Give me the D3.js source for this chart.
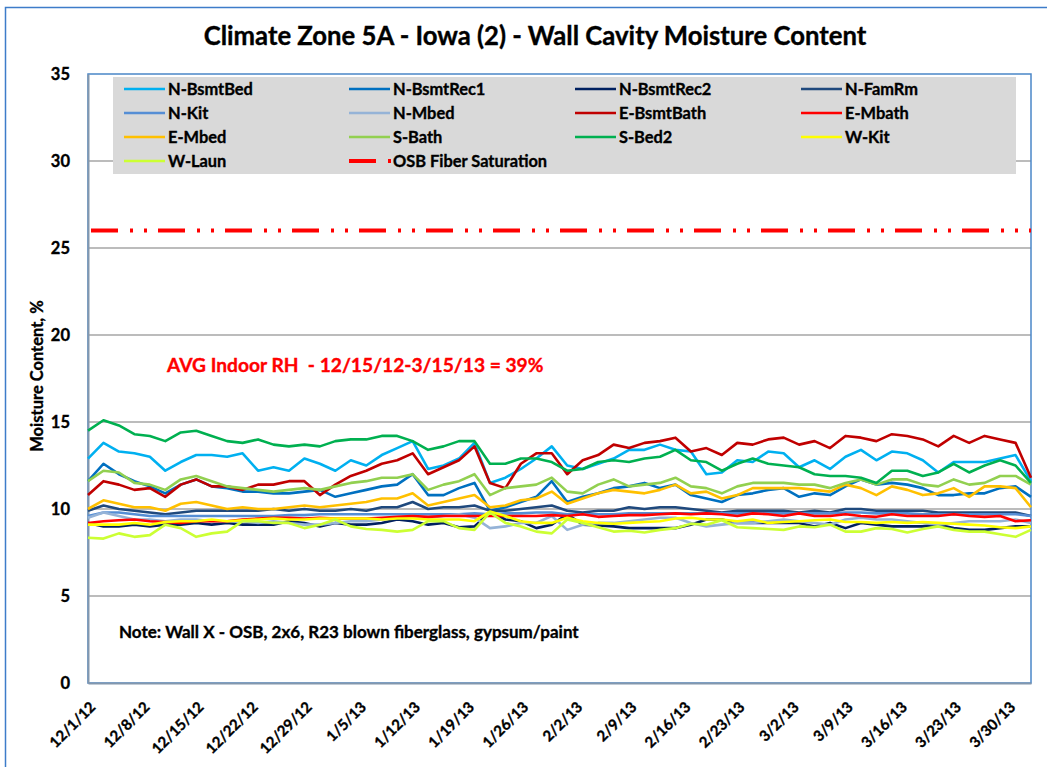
<!DOCTYPE html>
<html>
<head>
<meta charset="utf-8">
<script src="https://cdn.jsdelivr.net/npm/d3@7"></script>
<style>
body { margin: 0; background: #fff; }
svg text { font-family: Lato, "Liberation Sans", sans-serif; font-weight: bold; stroke-width: 0.35px; paint-order: stroke; }
</style>
</head>
<body>
<div id="chart"></div>
<script>
// readings every second day, 12/1/12 .. 4/2/13
var start_date = new Date(2012, 11, 1);
var end_date = new Date(2013, 3, 2);
var dates = d3.timeDay.range(start_date, d3.timeDay.offset(end_date, 1), 2);

var tick_labels = ["12/1/12", "12/8/12", "12/15/12", "12/22/12", "12/29/12", "1/5/13", "1/12/13", "1/19/13", "1/26/13",
    "2/2/13", "2/9/13", "2/16/13", "2/23/13", "3/2/13", "3/9/13", "3/16/13", "3/23/13", "3/30/13"];
var y_ticks = [0, 5, 10, 15, 20, 25, 30, 35];

var series_names = ["N-BsmtBed", "N-BsmtRec1", "N-BsmtRec2", "N-FamRm", "N-Kit", "N-Mbed", "E-BsmtBath",
    "E-Mbath", "E-Mbed", "S-Bath", "S-Bed2", "W-Kit", "W-Laun"];

var n_bsmt_bed = [12.9, 13.8, 13.3, 13.2, 13.0, 12.2, 12.7, 13.1, 13.1, 13.0, 13.2, 12.2, 12.4, 12.2, 12.9, 12.6,
    12.2, 12.8, 12.5, 13.1, 13.5, 13.9, 12.3, 12.5, 12.9, 13.8, 11.5, 11.8, 12.3, 12.9, 13.6, 12.5,
    12.3, 12.6, 12.9, 13.4, 13.4, 13.7, 13.4, 13.3, 12.0, 12.1, 12.8, 12.7, 13.3, 13.2, 12.4, 12.8,
    12.3, 13.0, 13.4, 12.8, 13.3, 13.2, 12.8, 12.1, 12.7, 12.7, 12.7, 12.9, 13.1, 11.6];
var n_bsmt_rec1 = [11.6, 12.6, 12.0, 11.6, 11.3, 10.9, 11.4, 11.7, 11.3, 11.2, 11.0, 11.0, 10.9, 10.9, 11.0, 11.1,
    10.7, 10.9, 11.1, 11.3, 11.4, 12.0, 10.8, 10.8, 11.2, 11.5, 9.9, 10.1, 10.4, 10.7, 11.6, 10.4,
    10.7, 10.9, 11.2, 11.3, 11.5, 11.2, 11.4, 10.8, 10.6, 10.4, 10.8, 10.9, 11.1, 11.2, 10.7, 10.9,
    10.8, 11.3, 11.7, 11.4, 11.5, 11.4, 11.2, 10.8, 10.8, 10.9, 10.9, 11.2, 11.3, 10.7];
var n_bsmt_rec2 = [9.2, 9.0, 9.0, 9.1, 9.0, 9.1, 9.1, 9.2, 9.1, 9.2, 9.1, 9.1, 9.1, 9.3, 9.2, 9.0,
    9.2, 9.1, 9.1, 9.2, 9.4, 9.3, 9.1, 9.2, 8.95, 9.0, 9.8, 9.4, 9.3, 8.9, 9.1, 9.7,
    9.1, 9.05, 9.0, 8.9, 8.9, 8.9, 8.9, 9.1, 9.4, 9.4, 9.2, 9.2, 9.2, 9.2, 9.2, 9.0,
    9.2, 8.9, 9.2, 9.1, 9.0, 9.0, 9.0, 9.1, 8.9, 8.8, 8.8, 8.9, 9.0, 9.0];
var n_fam_rm = [9.9, 10.2, 10.0, 9.9, 9.8, 9.7, 9.8, 9.9, 9.9, 9.9, 9.9, 9.9, 10.0, 9.9, 10.0, 9.9,
    9.9, 10.0, 9.9, 10.1, 10.1, 10.4, 10.0, 10.1, 10.1, 10.2, 9.9, 9.9, 10.0, 10.1, 10.2, 9.9,
    9.8, 9.9, 9.9, 10.1, 10.0, 10.1, 10.1, 10.0, 9.9, 9.8, 9.9, 9.9, 9.9, 9.9, 9.8, 9.9,
    9.8, 10.0, 10.0, 9.9, 9.9, 9.9, 9.9, 9.8, 9.8, 9.8, 9.8, 9.8, 9.8, 9.6];
var n_kit = [9.6, 9.8, 9.8, 9.7, 9.6, 9.6, 9.6, 9.6, 9.6, 9.6, 9.6, 9.6, 9.6, 9.65, 9.65, 9.7,
    9.7, 9.7, 9.7, 9.7, 9.7, 9.7, 9.7, 9.7, 9.7, 9.75, 9.7, 9.75, 9.75, 9.8, 9.8, 9.7,
    9.7, 9.7, 9.7, 9.75, 9.75, 9.75, 9.75, 9.75, 9.75, 9.75, 9.75, 9.75, 9.75, 9.75, 9.75, 9.75,
    9.75, 9.8, 9.8, 9.75, 9.75, 9.75, 9.7, 9.7, 9.7, 9.7, 9.7, 9.7, 9.7, 9.6];
var n_mbed = [9.5, 9.8, 9.6, 9.4, 9.4, 9.3, 9.4, 9.4, 9.3, 9.3, 9.3, 9.2, 9.3, 9.2, 9.1, 9.1,
    9.2, 9.3, 9.3, 9.4, 9.5, 9.6, 9.5, 9.6, 9.7, 9.5, 8.9, 9.0, 9.2, 9.2, 9.6, 8.8,
    9.1, 9.2, 9.2, 9.3, 9.4, 9.5, 9.5, 9.2, 9.0, 9.1, 9.2, 9.2, 9.3, 9.4, 9.3, 9.2,
    9.1, 9.4, 9.5, 9.4, 9.4, 9.3, 9.2, 9.1, 9.2, 9.3, 9.3, 9.3, 9.4, 9.2];
var e_bsmt_bath = [10.8, 11.6, 11.4, 11.1, 11.2, 10.7, 11.4, 11.7, 11.3, 11.3, 11.1, 11.4, 11.4, 11.6, 11.6, 10.8,
    11.4, 11.9, 12.2, 12.6, 12.8, 13.2, 12.0, 12.4, 12.8, 13.6, 11.5, 11.2, 12.6, 13.2, 13.2, 12.0,
    12.8, 13.1, 13.7, 13.5, 13.8, 13.9, 14.1, 13.3, 13.5, 13.1, 13.8, 13.7, 14.0, 14.1, 13.7, 13.9,
    13.5, 14.2, 14.1, 13.9, 14.3, 14.2, 14.0, 13.6, 14.2, 13.8, 14.2, 14.0, 13.8, 11.8];
var e_mbath = [9.2, 9.3, 9.35, 9.4, 9.3, 9.25, 9.2, 9.3, 9.3, 9.3, 9.4, 9.45, 9.5, 9.5, 9.45, 9.5,
    9.45, 9.45, 9.45, 9.5, 9.55, 9.6, 9.55, 9.6, 9.6, 9.6, 9.6, 9.6, 9.6, 9.6, 9.65, 9.6,
    9.7, 9.55, 9.6, 9.65, 9.65, 9.7, 9.75, 9.7, 9.75, 9.7, 9.6, 9.75, 9.7, 9.6, 9.75, 9.6,
    9.6, 9.7, 9.6, 9.55, 9.7, 9.6, 9.6, 9.6, 9.7, 9.6, 9.55, 9.6, 9.3, 9.35];
var e_mbed = [10.0, 10.5, 10.3, 10.1, 10.1, 9.9, 10.3, 10.4, 10.2, 10.0, 10.1, 10.0, 10.0, 10.1, 10.2, 10.1,
    10.2, 10.3, 10.4, 10.6, 10.6, 10.9, 10.2, 10.4, 10.6, 10.8, 10.1, 10.2, 10.5, 10.6, 11.0, 10.3,
    10.6, 10.9, 11.1, 11.0, 10.9, 11.1, 11.4, 10.9, 11.0, 10.6, 10.8, 11.2, 11.2, 11.2, 11.2, 11.1,
    11.0, 11.4, 11.2, 10.8, 11.3, 11.1, 10.8, 10.9, 11.2, 10.7, 11.3, 11.3, 11.2, 10.1];
var s_bath = [11.6, 12.2, 12.1, 11.5, 11.4, 11.1, 11.7, 11.9, 11.6, 11.3, 11.2, 11.1, 11.0, 11.1, 11.2, 11.1,
    11.3, 11.5, 11.6, 11.8, 11.8, 12.0, 11.1, 11.4, 11.6, 12.0, 10.8, 11.2, 11.3, 11.4, 11.8, 11.0,
    10.9, 11.4, 11.7, 11.3, 11.4, 11.5, 11.8, 11.3, 11.2, 10.9, 11.3, 11.5, 11.5, 11.5, 11.4, 11.4,
    11.2, 11.5, 11.7, 11.4, 11.7, 11.7, 11.4, 11.3, 11.7, 11.4, 11.5, 11.9, 11.9, 11.4];
var s_bed2 = [14.5, 15.1, 14.8, 14.3, 14.2, 13.9, 14.4, 14.5, 14.2, 13.9, 13.8, 14.0, 13.7, 13.6, 13.7, 13.6,
    13.9, 14.0, 14.0, 14.2, 14.2, 13.9, 13.4, 13.6, 13.9, 13.9, 12.6, 12.6, 12.9, 12.9, 12.7, 12.2,
    12.3, 12.7, 12.8, 12.7, 12.9, 13.0, 13.4, 12.8, 12.7, 12.2, 12.6, 12.9, 12.6, 12.5, 12.4, 12.0,
    11.9, 11.9, 11.8, 11.5, 12.2, 12.2, 11.9, 12.1, 12.6, 12.1, 12.5, 12.8, 12.5, 11.5];
var w_kit = [9.1, 9.1, 9.1, 9.2, 9.1, 9.25, 9.3, 9.3, 9.4, 9.3, 9.35, 9.4, 9.45, 9.4, 9.4, 9.45,
    9.45, 9.45, 9.45, 9.4, 9.45, 9.45, 9.4, 9.4, 9.4, 9.3, 9.85, 9.6, 9.3, 9.2, 9.2, 9.5,
    9.3, 9.2, 9.15, 9.2, 9.25, 9.3, 9.45, 9.5, 9.4, 9.4, 9.3, 9.4, 9.2, 9.25, 9.3, 9.35,
    9.4, 9.25, 9.25, 9.2, 9.25, 9.2, 9.25, 9.2, 9.15, 9.1, 9.05, 8.95, 8.9, 9.0];
var w_laun = [8.35, 8.3, 8.6, 8.4, 8.5, 9.1, 8.9, 8.4, 8.6, 8.7, 9.3, 9.3, 9.2, 9.2, 8.9, 9.1,
    9.4, 9.0, 8.85, 8.8, 8.7, 8.8, 9.3, 9.3, 8.9, 8.8, 9.8, 9.2, 9.0, 8.7, 8.6, 9.4,
    9.2, 8.95, 8.7, 8.75, 8.65, 8.8, 8.9, 9.15, 9.1, 9.35, 8.95, 8.9, 8.85, 8.8, 9.0, 8.95,
    9.1, 8.7, 8.7, 8.9, 8.85, 8.65, 8.85, 9.0, 8.8, 8.7, 8.7, 8.55, 8.4, 8.8];

var osb_fiber_saturation = 26;
var rh_note = "AVG Indoor RH  - 12/15/12-3/15/13 = 39%";
var wall_note = "Note: Wall X - OSB, 2x6, R23 blown fiberglass, gypsum/paint";

var series_values = [n_bsmt_bed, n_bsmt_rec1, n_bsmt_rec2, n_fam_rm, n_kit, n_mbed, e_bsmt_bath,
    e_mbath, e_mbed, s_bath, s_bed2, w_kit, w_laun];


class MoistureChart {
    constructor(parent_el, svg_width, svg_height) {
        this.parent_el = parent_el;
        this.svg_width = svg_width;
        this.svg_height = svg_height;
        this.plot = {left: 88, right: 1031, top: 74, bottom: 683};
        this.colors = {
            "N-BsmtBed": "#00B0F0", "N-BsmtRec1": "#0070C0", "N-BsmtRec2": "#002060", "N-FamRm": "#1F497D",
            "N-Kit": "#558ED5", "N-Mbed": "#95B3D7", "E-BsmtBath": "#C00000", "E-Mbath": "#FF0000",
            "E-Mbed": "#FFC000", "S-Bath": "#92D050", "S-Bed2": "#00B050", "W-Kit": "#FFFF00",
            "W-Laun": "#CCFF33"
        };
        this.osb_dash = "27,12,3,11,3,11";
        this.x = d3.scaleTime().domain([start_date, end_date]).range([this.plot.left, this.plot.right]);
        this.y = d3.scaleLinear().domain([0, 35]).range([this.plot.bottom, this.plot.top]);
        this.create_el();
    }
    create_el() {
        this.svg = this.parent_el.append("svg")
            .attr("width", this.svg_width)
            .attr("height", this.svg_height);
        this.svg.append("rect")
            .attr("x", 5.5).attr("y", 7.5)
            .attr("width", 1100).attr("height", 800)
            .attr("fill", "#fff")
            .attr("stroke", "#3d7cc9").attr("stroke-width", 1.5);
    }
    add_text(x, y, size, str, color) {
        return this.svg.append("text")
            .attr("x", x).attr("y", y)
            .attr("fill", color || "#000").attr("stroke", color || "#000")
            .style("font-size", size + "px")
            .text(str);
    }
    visualize() {
        var that = this;
        var p = this.plot;

        this.add_text(535, 45, 25.7, "Climate Zone 5A - Iowa (2) - Wall Cavity Moisture Content")
            .attr("text-anchor", "middle");

        // gridlines
        this.svg.append("g").selectAll("line")
            .data(y_ticks.filter(function(d) { return d > 0 && d < 35; }))
          .enter().append("line")
            .attr("x1", p.left).attr("x2", p.right)
            .attr("y1", function(d) { return that.y(d); })
            .attr("y2", function(d) { return that.y(d); })
            .attr("stroke", "#a6a6a6").attr("stroke-width", 1.5);

        this.svg.append("rect")
            .attr("x", p.left).attr("y", p.top)
            .attr("width", p.right - p.left).attr("height", p.bottom - p.top)
            .attr("fill", "none")
            .attr("stroke", "#4a86c8").attr("stroke-width", 1.5);

        var yAxis = d3.axisLeft(this.y).tickValues(y_ticks).tickSize(0).tickPadding(18);
        var gy = this.svg.append("g")
            .attr("transform", "translate(" + p.left + ",0)")
            .call(yAxis);
        gy.select(".domain").attr("stroke", "#8397ad").attr("stroke-width", 2);
        gy.selectAll("text").style("font-size", "16.5px").attr("fill", "#000").attr("stroke", "#000");

        var parseTick = d3.timeParse("%m/%d/%y");
        var xAxis = d3.axisBottom(this.x)
            .tickValues(tick_labels.map(parseTick))
            .tickFormat(function(d, i) { return tick_labels[i]; })
            .tickSize(0);
        var gx = this.svg.append("g")
            .attr("transform", "translate(0," + p.bottom + ")")
            .call(xAxis);
        gx.select(".domain").attr("stroke", "#8397ad").attr("stroke-width", 2);
        gx.selectAll("text")
            .style("font-size", "15px").attr("fill", "#000").attr("stroke", "#000")
            .attr("text-anchor", "end")
            .attr("dy", null)
            .attr("y", 0)
            .attr("transform", "translate(8,25) rotate(-45)");

        this.add_text(0, 0, 16.5, "Moisture Content, %")
            .attr("transform", "translate(43,376) rotate(-90)")
            .attr("text-anchor", "middle");

        // legend box sits over the 30 gridline
        this.svg.append("rect")
            .attr("x", 113).attr("y", 77)
            .attr("width", 903).attr("height", 97)
            .attr("fill", "#d9d9d9");

        var line = d3.line()
            .x(function(d, i) { return that.x(dates[i]); })
            .y(function(d) { return that.y(d); });

        var lines = this.svg.append("g");
        series_values.forEach(function(vals, k) {
            lines.append("path")
                .datum(vals)
                .attr("d", line)
                .attr("fill", "none")
                .attr("stroke", that.colors[series_names[k]])
                .attr("stroke-width", 2.6)
                .attr("stroke-linejoin", "round");
        });

        this.svg.append("line")
            .attr("x1", that.x(start_date) + 3).attr("x2", that.x(end_date))
            .attr("y1", that.y(osb_fiber_saturation)).attr("y2", that.y(osb_fiber_saturation))
            .attr("stroke", "#FF0000").attr("stroke-width", 4)
            .attr("stroke-dasharray", this.osb_dash);

        this.draw_legend();

        this.add_text(167, 372, 19.2, rh_note, "#FF0000")
            .style("white-space", "pre");

        this.add_text(119, 638, 17, wall_note);
    }
    draw_legend() {
        var that = this;
        var col_x = [124, 349, 575, 801];
        var row_y = [89, 113, 137, 161];
        var items = series_names.concat(["OSB Fiber Saturation"]);
        var g = this.svg.append("g");
        items.forEach(function(name, i) {
            var lx = col_x[i % 4], ly = row_y[Math.floor(i / 4)];
            var ln = g.append("line")
                .attr("x1", lx).attr("x2", lx + 41)
                .attr("y1", ly).attr("y2", ly);
            if (name === "OSB Fiber Saturation") {
                ln.attr("x2", lx + 42).attr("stroke", "#FF0000").attr("stroke-width", 4)
                    .attr("stroke-dasharray", that.osb_dash);
            } else {
                ln.attr("stroke", that.colors[name]).attr("stroke-width", 2.6);
            }
            g.append("text")
                .attr("x", lx + 44).attr("y", ly + 6)
                .attr("fill", "#000").attr("stroke", "#000")
                .style("font-size", "16.4px")
                .text(name);
        });
    }
}

var chart = new MoistureChart(d3.select("#chart"), 1047, 767);
chart.visualize();
</script>
</body>
</html>
